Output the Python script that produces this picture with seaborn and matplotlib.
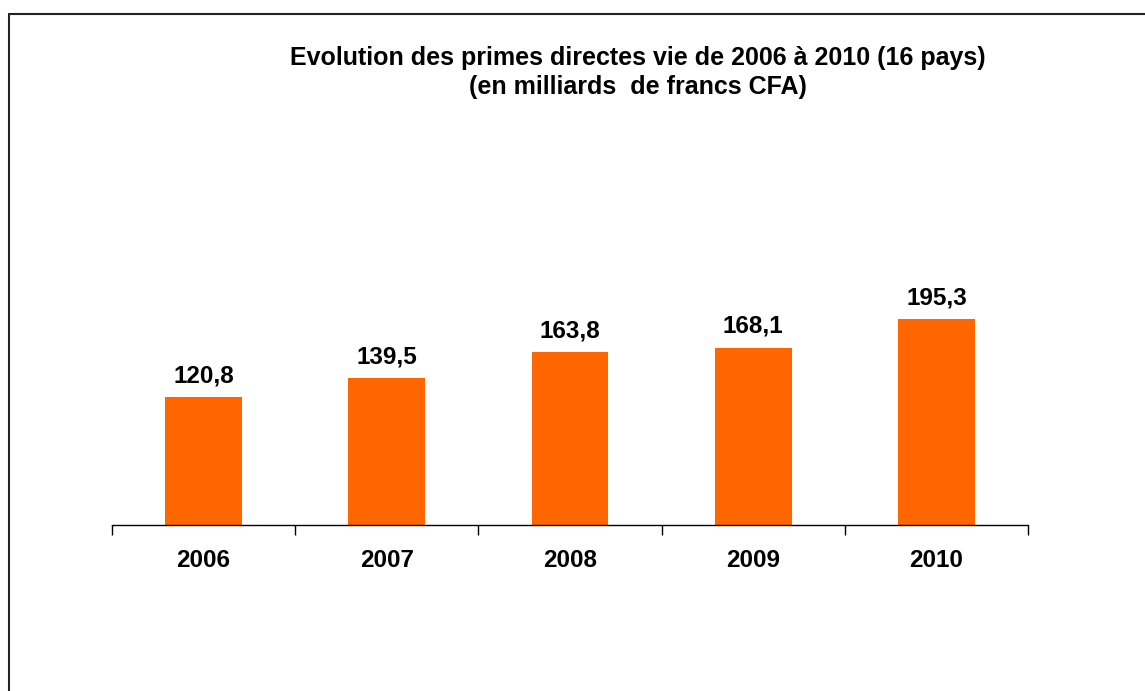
import matplotlib
matplotlib.use("Agg")
import matplotlib.pyplot as plt
import seaborn as sns
import pandas as pd
from matplotlib.lines import Line2D

years = ["2006", "2007", "2008", "2009", "2010"]
primes = [120.8, 139.5, 163.8, 168.1, 195.3]
value_labels = ["120,8", "139,5", "163,8", "168,1", "195,3"]
title = "Evolution des primes directes vie de 2006 à 2010 (16 pays)\n(en milliards  de francs CFA)"

sns.set_style("white")
plt.rcParams['font.family'] = ['Liberation Sans', 'DejaVu Sans']
plt.rcParams['text.color'] = 'black'
plt.rcParams['xtick.color'] = 'black'

df = pd.DataFrame({"annee": years, "primes": primes})

fig = plt.figure(figsize=(11.45, 6.91), dpi=100)
ax = fig.add_axes([0.0978, 0.2402, 0.8, 0.382])

sns.barplot(data=df, x="annee", y="primes", color="#FF6600", saturation=1,
            width=0.42, ax=ax, edgecolor="none")

ax.set_ylim(0, 250)
ax.set_xlim(-0.5, len(years) - 0.5)
for s in ["top", "right", "left"]:
    ax.spines[s].set_visible(False)
ax.spines["bottom"].set_color("black")
ax.spines["bottom"].set_linewidth(1.0)
ax.set_yticks([])
ax.set_xlabel("")
ax.set_ylabel("")

ax.set_xticks([i - 0.5 for i in range(len(years) + 1)], minor=True)
ax.tick_params(axis="x", which="minor", length=7, width=1, color="black", direction="out", bottom=True)
ax.tick_params(axis="x", which="major", length=0, pad=17, labelsize=17.5, labelcolor="black")
for lbl in ax.get_xticklabels():
    lbl.set_fontweight("bold")

ax.bar_label(ax.containers[0], labels=value_labels, padding=7,
             fontsize=17.5, fontweight="bold", color="black")

fig.text(0.557, 0.895, title, ha="center", va="center", fontsize=18,
         fontweight="bold", linespacing=1.25, color="black")

# frame border
fig.add_artist(Line2D([9/1145, 1.0], [1 - 14/691, 1 - 14/691], transform=fig.transFigure,
                      color="#222222", linewidth=1.5))
fig.add_artist(Line2D([9/1145, 9/1145], [0, 1 - 14/691], transform=fig.transFigure,
                      color="#222222", linewidth=1.5))

fig.savefig("out.png", dpi=100, facecolor="white")
